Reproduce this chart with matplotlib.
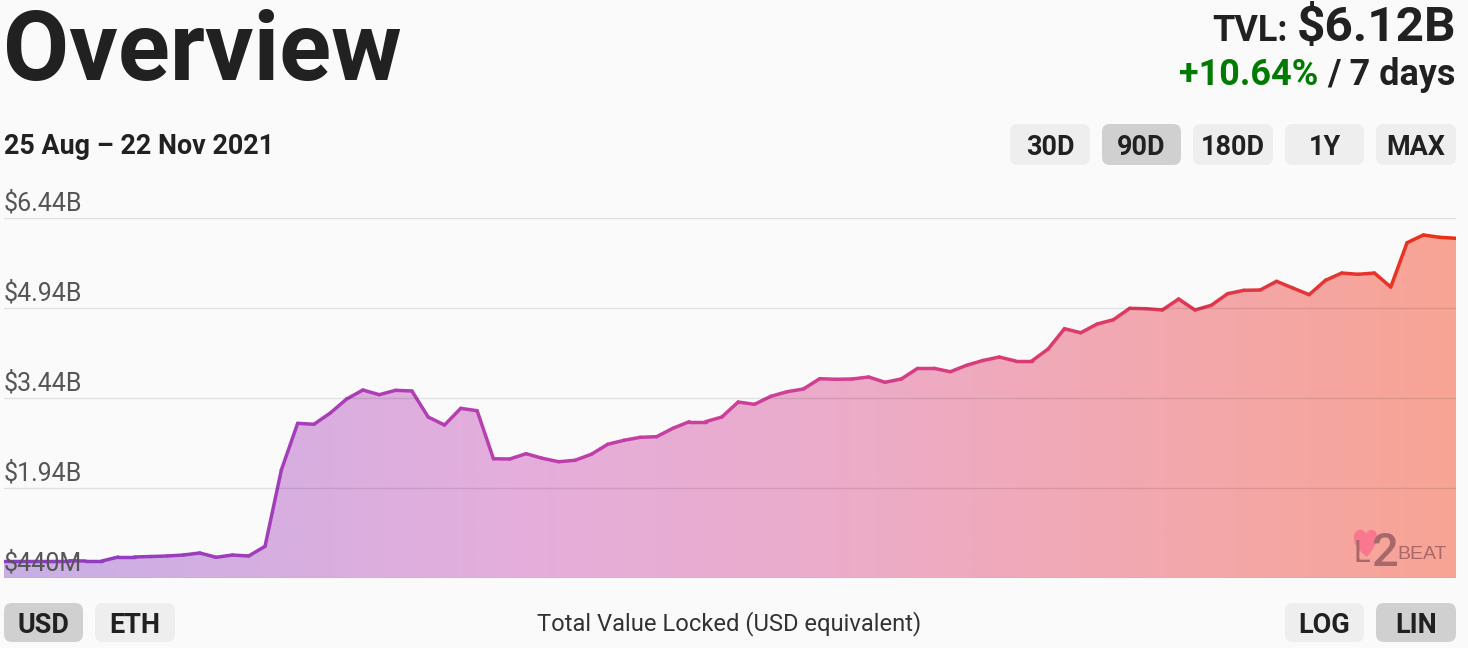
import numpy as np
import pandas as pd
import matplotlib
matplotlib.use("Agg")
import matplotlib.pyplot as plt
from matplotlib.collections import LineCollection
from matplotlib.colors import LinearSegmentedColormap
from matplotlib.patches import FancyBboxPatch, PathPatch
from matplotlib.path import Path
from matplotlib.transforms import ScaledTranslation

W, H = 1468, 648
DPI = 100

dates = pd.date_range("2021-08-25", "2021-11-22")
tvl_billions = [
    0.728, 0.728, 0.728, 0.728, 0.728, 0.723, 0.723, 0.790, 0.790, 0.798,
    0.807, 0.823, 0.857, 0.785, 0.823, 0.807, 0.968, 2.240, 3.018, 3.002,
    3.190, 3.423, 3.573, 3.495, 3.568, 3.557, 3.123, 2.990, 3.268, 3.228,
    2.428, 2.423, 2.512, 2.435, 2.378, 2.402, 2.502, 2.668, 2.735, 2.785,
    2.795, 2.935, 3.045, 3.045, 3.123, 3.373, 3.335, 3.468, 3.545, 3.590,
    3.762, 3.752, 3.757, 3.790, 3.702, 3.757, 3.935, 3.935, 3.878, 3.985,
    4.065, 4.123, 4.057, 4.057, 4.257, 4.595, 4.528, 4.673, 4.745, 4.935,
    4.928, 4.907, 5.090, 4.907, 4.985, 5.178, 5.235, 5.240, 5.385, 5.273,
    5.162, 5.402, 5.523, 5.502, 5.523, 5.290, 6.028, 6.157, 6.118, 6.102,
]
tick_values = [0.44, 1.94, 3.44, 4.94, 6.44]
tick_labels = ["$440M", "$1.94B", "$3.44B", "$4.94B", "$6.44B"]
range_buttons = ["30D", "90D", "180D", "1Y", "MAX"]
currency_buttons = ["USD", "ETH"]
scale_buttons = ["LOG", "LIN"]

BG = "#fafafa"
INK = "#212121"
ON = "#d0d0d0"
OFF = "#eeeeee"
LOGO = "#a8686a"
plt.rcParams["font.family"] = "Roboto"


def fs(px):
    return px * 72 / DPI


def button(ov, x0, x1, y0, y1, label, active=False):
    ov.add_patch(FancyBboxPatch((x0 + 8, y0 + 8), x1 - x0 - 16, y1 - y0 - 16,
                                boxstyle="round,pad=8,rounding_size=8",
                                fc=ON if active else OFF, ec="none"))
    ov.text((x0 + x1) / 2, (y0 + y1) / 2, label, ha="center", va="center_baseline",
            fontsize=fs(27), fontweight="bold", color=INK)


fig = plt.figure(figsize=(W / DPI, H / DPI), dpi=DPI, facecolor=BG)

# chart area
ax = fig.add_axes([4 / W, 1 - 578 / H, 1452 / W, 360 / H], facecolor=BG)
x = matplotlib.dates.date2num(dates)
y = np.array(tvl_billions)
ax.set_xlim(x[0], x[-1])
ax.set_ylim(0.44, 6.44)

fill_cmap = LinearSegmentedColormap.from_list(
    "fill", [(0, "#c8aee6"), (0.35, "#e4aedc"), (0.55, "#ebaccc"), (0.75, "#f1a9b4"), (1, "#f8a495")])
line_cmap = LinearSegmentedColormap.from_list(
    "line", [(0, "#8a3cc4"), (0.33, "#b83fb0"), (0.55, "#d13f96"), (0.75, "#dd3a68"), (1, "#ea3118")])

poly = ax.fill_between(x, 0.44, y, facecolor="none", edgecolor="none")
im = ax.imshow(np.linspace(0, 1, 512).reshape(1, -1), cmap=fill_cmap, aspect="auto",
               extent=(x[0], x[-1], 0.44, 6.44), zorder=1)
im.set_clip_path(poly.get_paths()[0], transform=ax.transData)

pts = np.column_stack([x, y])
segs = np.stack([pts[:-1], pts[1:]], axis=1)
lc = LineCollection(segs, cmap=line_cmap, linewidths=2.5, capstyle="round", zorder=2)
lc.set_array(np.linspace(0, 1, len(segs)))
ax.add_collection(lc)

ax.set_axisbelow(False)
ax.set_xticks([])
ax.set_yticks(tick_values)
ax.set_yticklabels(tick_labels, fontsize=fs(25), color="#555555")
ax.tick_params(axis="y", length=0, pad=0)
ax.grid(True, axis="y", color="black", alpha=0.1, lw=1)
offset = ScaledTranslation(0, 1.5 / 72, fig.dpi_scale_trans)
for lbl in ax.get_yticklabels():
    lbl.set_ha("left")
    lbl.set_va("bottom")
    lbl.set_transform(lbl.get_transform() + offset)
for s in ax.spines.values():
    s.set_visible(False)

# page furniture, laid out in pixels
ov = fig.add_axes([0, 0, 1, 1], facecolor="none", zorder=5)
ov.set_xlim(0, W)
ov.set_ylim(H, 0)
ov.axis("off")

ov.text(3, 80, "Overview", fontsize=fs(96), fontweight="bold", color=INK, va="baseline")
ov.text(1456, 41, "$6.12B", fontsize=fs(49.5), fontweight="bold", color=INK, ha="right", va="baseline")
ov.text(1288, 41, "TVL:", fontsize=fs(36), fontweight="bold", color=INK, ha="right", va="baseline")
ov.text(1456, 85, "/ 7 days", fontsize=fs(36), fontweight="bold", color=INK, ha="right", va="baseline")
ov.text(1318, 85, "+10.64%", fontsize=fs(36), fontweight="bold", color="#007a00", ha="right", va="baseline")
ov.text(4, 154, f"{dates[0]:%d %b} – {dates[-1]:%d %b %Y}", fontsize=fs(26.9), fontweight="bold",
        color=INK, va="baseline")
ov.text(729, 630, "Total Value Locked (USD equivalent)", fontsize=fs(23.8), color="#333333",
        ha="center", va="baseline")

for (x0, x1), label in zip([(1010, 1090), (1102, 1181), (1193, 1273), (1285, 1364), (1376, 1456)],
                           range_buttons):
    button(ov, x0, x1, 124, 165, label, active=label == "90D")
for (x0, x1), label in zip([(4, 83), (95, 175)], currency_buttons):
    button(ov, x0, x1, 603, 642, label, active=label == "USD")
for (x0, x1), label in zip([(1285, 1364), (1376, 1456)], scale_buttons):
    button(ov, x0, x1, 603, 642, label, active=label == "LIN")

# watermark
heart = Path([(1367, 557), (1358, 550), (1354, 545), (1354, 537),
              (1354, 529), (1363, 527), (1366, 534),
              (1369, 527), (1378, 529), (1377, 538),
              (1376, 545), (1372, 551), (1367, 557)],
             [Path.MOVETO, Path.CURVE4, Path.CURVE4, Path.CURVE4,
              Path.CURVE4, Path.CURVE4, Path.CURVE4,
              Path.CURVE4, Path.CURVE4, Path.CURVE4,
              Path.CURVE4, Path.CURVE4, Path.CURVE4])
ov.add_patch(PathPatch(heart, fc="#f9778f", ec="none"))
ov.text(1354, 562, "L", fontsize=fs(31), color=LOGO, va="baseline")
ov.text(1371, 566, "2", fontsize=fs(47), color=LOGO, fontweight="medium", va="baseline")
ov.text(1397, 559, "BEAT", fontfamily="Liberation Sans", fontsize=fs(19.5), color=LOGO, va="baseline")

fig.savefig("out.png", dpi=DPI, facecolor=BG)
